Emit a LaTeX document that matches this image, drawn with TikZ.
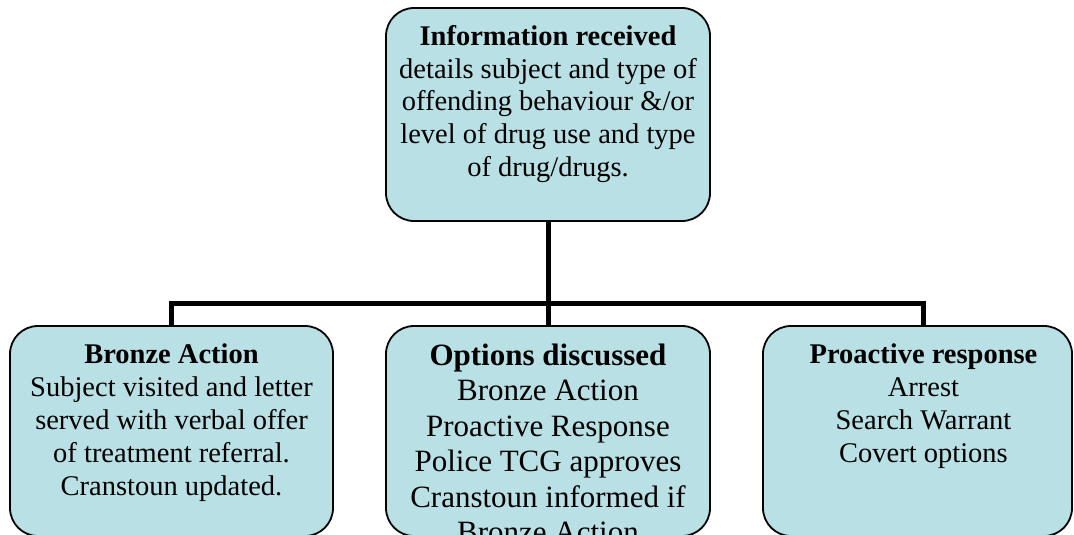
\documentclass[tikz,border=0pt]{standalone}
\usepackage{fontspec}
\setmainfont{Liberation Serif}
\definecolor{boxblue}{RGB}{185,224,228}
\tikzset{
  box/.style={draw=black, line width=1.8pt, fill=boxblue, rounded corners=28pt, inner sep=0pt, outer sep=0pt, anchor=north west},
  conn/.style={draw=black, line width=5pt},
}
\newcommand{\boxtext}[6]{\parbox[c][#2pt][t]{#1pt}{#4\centering\leftskip=#3pt plus 1fil\relax\rule{0pt}{#6pt}#5}}
\begin{document}
\begin{tikzpicture}[x=1pt,y=-1pt]
\useasboundingbox (0,0) rectangle (1074,535);
\clip (0,0) rectangle (1074,535);
\node[box] (info) at (386,8) {\boxtext{324}{213}{0}{\fontsize{28.5}{33}\selectfont}{\textbf{Information received}\\details subject and type of\\offending behaviour \&/or\\level of drug use and type\\of drug/drugs.}{37}};
\node[box] (bronze) at (10,326) {\boxtext{323}{210}{0}{\fontsize{28.5}{33}\selectfont}{\textbf{Bronze Action}\\Subject visited and letter\\served with verbal offer\\of treatment referral.\\Cranstoun updated.}{37}};
\node[box] (opt) at (386,326) {\boxtext{324}{210}{0}{\fontsize{31}{35.5}\selectfont}{\textbf{Options discussed}\\Bronze Action\\Proactive Response\\Police TCG approves\\Cranstoun informed if\\Bronze Action}{39}};
\node[box] (pro) at (763,326) {\boxtext{309}{210}{12}{\fontsize{28.5}{33}\selectfont}{\textbf{Proactive response}\\Arrest\\Search Warrant\\Covert options}{37}};
\coordinate (bar) at (548,303);
\draw[conn] (info.south) -- (opt.north);
\draw[conn] (bronze.north) |- (bar) -| ([xshift=5.5pt]pro.north);
\end{tikzpicture}
\end{document}
